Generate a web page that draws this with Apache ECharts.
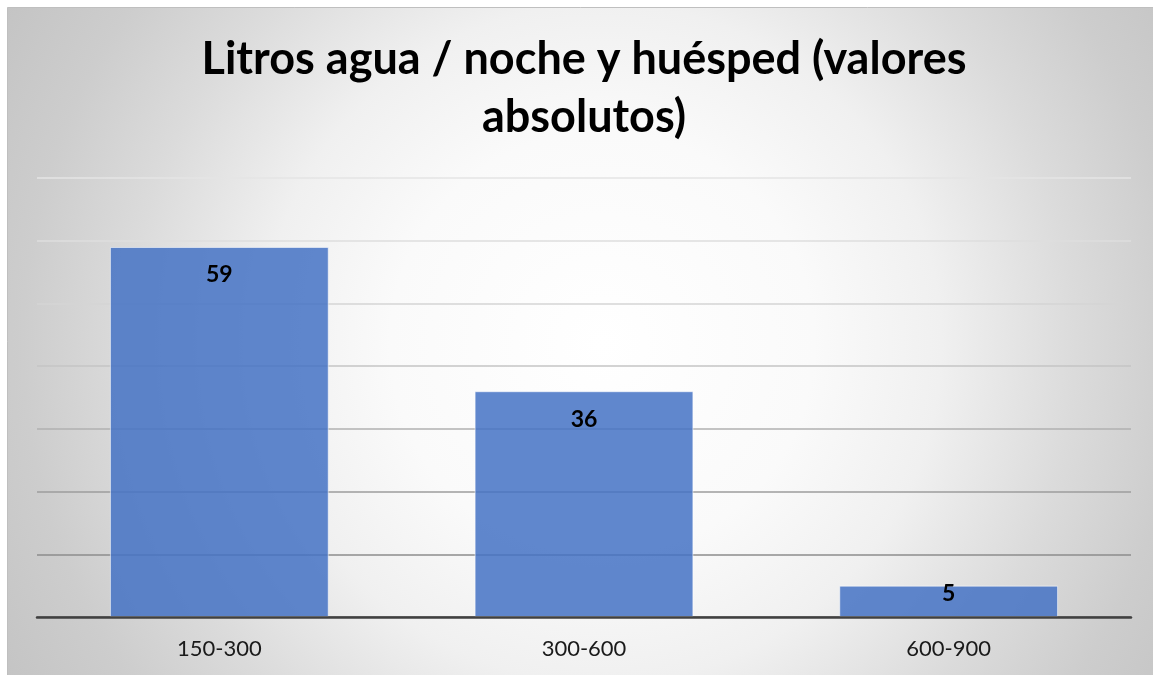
<!DOCTYPE html>
<html>
<head>
<meta charset="utf-8">
<script src="https://cdn.jsdelivr.net/npm/echarts@6/dist/echarts.min.js"></script>
<style>
  html, body { margin: 0; padding: 0; background: #fff; }
  #chart_box { width: 1153px; height: 675px; }
</style>
</head>
<body>
<div id="chart_box"></div>
<script>
// datos
const categorias = ["150-300", "300-600", "600-900"];
const valores = [59, 36, 5];
const yTicks = [0, 10, 20, 30, 40, 50, 60, 70];

const myChart = echarts.init(document.getElementById("chart_box"));

// lineas de la cuadricula: mas oscuras abajo, mas claras arriba
const gridColors = ["#7f7f7f", "#8c8c8c", "#9c9c9c", "#b0b0b0", "#c4c4c4", "#d4d4d4", "#dedede", "#e4e4e4"];

const barData = valores.map((v, i) => {
  // la barra corta lleva la etiqueta pegada arriba
  if (v < 10) {
    return { value: v, label: { distance: -4 } };
  }
  return v;
});

const option = {
  animation: false,
  graphic: [
    {
      type: "rect",
      z: -100,
      silent: true,
      shape: { x: 7.5, y: 7.5, width: 1150, height: 672 },
      style: {
        fill: {
          type: "radial",
          x: 0.517,
          y: 0.5,
          r: 1.05,
          colorStops: [
            { offset: 0, color: "#ffffff" },
            { offset: 0.3, color: "#fafafa" },
            { offset: 0.48, color: "#f0f0f0" },
            { offset: 0.67, color: "#dbdbdb" },
            { offset: 0.82, color: "#cdcdcd" },
            { offset: 1, color: "#c2c2c2" },
          ],
        },
        stroke: "#bfbfbf",
        lineWidth: 1,
      },
    },
  ],
  title: {
    text: "Litros agua / noche y huésped (valores\nabsolutos)",
    left: 584,
    textAlign: "center",
    top: 30,
    padding: 0,
    textStyle: {
      fontFamily: "Lato",
      fontWeight: "bold",
      fontSize: 45,
      lineHeight: 58,
      color: "#000",
    },
  },
  grid: {
    left: 37,
    right: 22,
    top: 178,
    bottom: 58,
    containLabel: false,
  },
  xAxis: {
    type: "category",
    data: categorias,
    z: 3,
    axisLine: { lineStyle: { color: "#404040", width: 2.5 } },
    axisTick: { show: false },
    axisLabel: {
      fontFamily: "Lato",
      fontSize: 22,
      color: "#1a1a1a",
      margin: 21,
    },
  },
  yAxis: {
    type: "value",
    min: yTicks[0],
    max: yTicks[yTicks.length - 1],
    interval: 10,
    axisLabel: { show: false },
    axisLine: { show: false },
    axisTick: { show: false },
    splitLine: { lineStyle: { color: gridColors, width: 1.5 } },
  },
  series: [
    {
      type: "bar",
      data: barData,
      barWidth: "60%",
      itemStyle: {
        color: "rgba(68,114,196,0.85)",
        borderColor: "rgba(255,255,255,0.55)",
        borderWidth: 1,
      },
      label: {
        show: true,
        position: "insideTop",
        distance: 16,
        fontFamily: "Lato",
        fontWeight: "bold",
        fontSize: 23,
        lineHeight: 24,
        color: "#000",
      },
    },
  ],
};

myChart.setOption(option);
</script>
</body>
</html>
